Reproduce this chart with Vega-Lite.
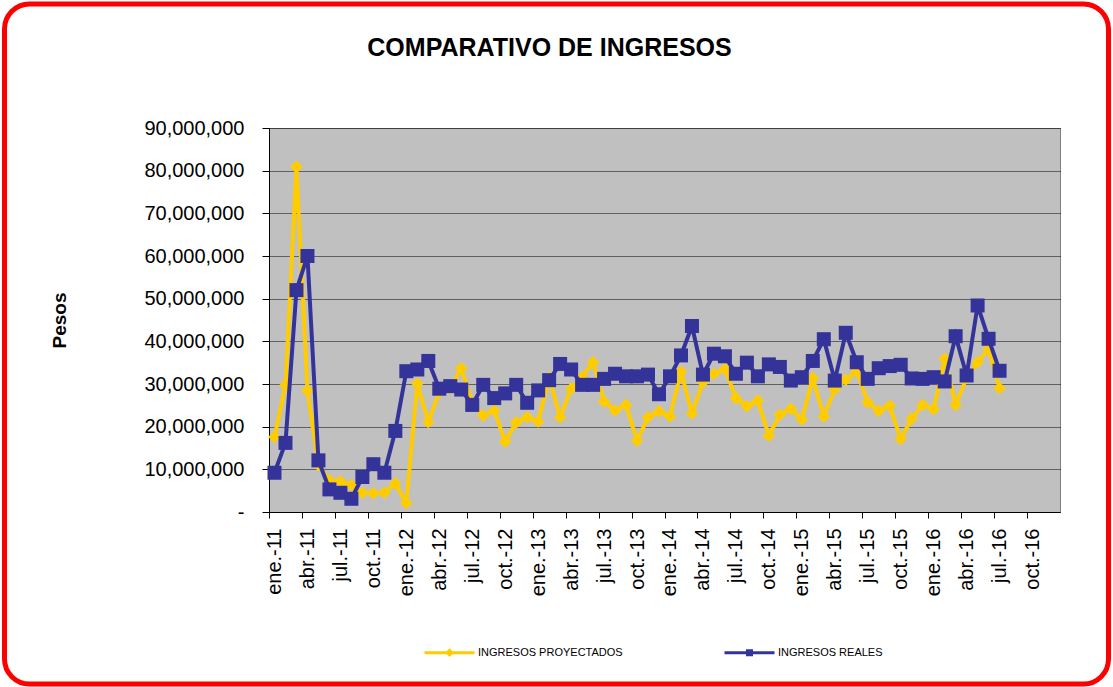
{
  "$schema": "https://vega.github.io/schema/vega-lite/v6.json",
  "width": 791,
  "height": 384,
  "autosize": {"type": "none"},
  "padding": {"left": 269, "top": 128, "right": 53, "bottom": 175},
  "background": "#FFFFFF",
  "title": {"text": "COMPARATIVO DE INGRESOS", "font": "Liberation Sans", "fontSize": 25, "fontWeight": "bold", "color": "#000000", "anchor": "middle", "frame": "group", "dx": -115, "offset": -59},
  "data": {"values": [
    {"mes": "ene.-11", "proyectado": 17600000, "real": 9200000},
    {"mes": "feb.-11", "proyectado": 29700000, "real": 16200000},
    {"mes": "mar.-11", "proyectado": 80900000, "real": 52000000},
    {"mes": "abr.-11", "proyectado": 28400000, "real": 60000000},
    {"mes": "may.-11", "proyectado": 11000000, "real": 12100000},
    {"mes": "jun.-11", "proyectado": 7400000, "real": 5300000},
    {"mes": "jul.-11", "proyectado": 7200000, "real": 4500000},
    {"mes": "ago.-11", "proyectado": 6300000, "real": 3100000},
    {"mes": "sep.-11", "proyectado": 4500000, "real": 8200000},
    {"mes": "oct.-11", "proyectado": 4400000, "real": 11200000},
    {"mes": "nov.-11", "proyectado": 4500000, "real": 9200000},
    {"mes": "dic.-11", "proyectado": 6700000, "real": 19000000},
    {"mes": "ene.-12", "proyectado": 2100000, "real": 33000000},
    {"mes": "feb.-12", "proyectado": 30100000, "real": 33400000},
    {"mes": "mar.-12", "proyectado": 21100000, "real": 35400000},
    {"mes": "abr.-12", "proyectado": 28100000, "real": 28900000},
    {"mes": "may.-12", "proyectado": 29000000, "real": 29500000},
    {"mes": "jun.-12", "proyectado": 33700000, "real": 28700000},
    {"mes": "jul.-12", "proyectado": 25500000, "real": 25100000},
    {"mes": "ago.-12", "proyectado": 22600000, "real": 29800000},
    {"mes": "sep.-12", "proyectado": 23800000, "real": 26700000},
    {"mes": "oct.-12", "proyectado": 16500000, "real": 27800000},
    {"mes": "nov.-12", "proyectado": 21000000, "real": 29800000},
    {"mes": "dic.-12", "proyectado": 22200000, "real": 25600000},
    {"mes": "ene.-13", "proyectado": 21200000, "real": 28500000},
    {"mes": "feb.-13", "proyectado": 31500000, "real": 30900000},
    {"mes": "mar.-13", "proyectado": 22200000, "real": 34700000},
    {"mes": "abr.-13", "proyectado": 28900000, "real": 33400000},
    {"mes": "may.-13", "proyectado": 31600000, "real": 29800000},
    {"mes": "jun.-13", "proyectado": 35100000, "real": 29800000},
    {"mes": "jul.-13", "proyectado": 25900000, "real": 31200000},
    {"mes": "ago.-13", "proyectado": 23800000, "real": 32400000},
    {"mes": "sep.-13", "proyectado": 25100000, "real": 31800000},
    {"mes": "oct.-13", "proyectado": 16700000, "real": 31800000},
    {"mes": "nov.-13", "proyectado": 22200000, "real": 32200000},
    {"mes": "dic.-13", "proyectado": 23600000, "real": 27600000},
    {"mes": "ene.-14", "proyectado": 22400000, "real": 31800000},
    {"mes": "feb.-14", "proyectado": 32900000, "real": 36700000},
    {"mes": "mar.-14", "proyectado": 23100000, "real": 43600000},
    {"mes": "abr.-14", "proyectado": 30400000, "real": 32200000},
    {"mes": "may.-14", "proyectado": 32400000, "real": 37100000},
    {"mes": "jun.-14", "proyectado": 33500000, "real": 36500000},
    {"mes": "jul.-14", "proyectado": 26700000, "real": 32400000},
    {"mes": "ago.-14", "proyectado": 24800000, "real": 35000000},
    {"mes": "sep.-14", "proyectado": 26100000, "real": 31800000},
    {"mes": "oct.-14", "proyectado": 17900000, "real": 34600000},
    {"mes": "nov.-14", "proyectado": 22800000, "real": 34000000},
    {"mes": "dic.-14", "proyectado": 24200000, "real": 30800000},
    {"mes": "ene.-15", "proyectado": 21700000, "real": 31600000},
    {"mes": "feb.-15", "proyectado": 31400000, "real": 35400000},
    {"mes": "mar.-15", "proyectado": 22400000, "real": 40500000},
    {"mes": "abr.-15", "proyectado": 28800000, "real": 30800000},
    {"mes": "may.-15", "proyectado": 31000000, "real": 42000000},
    {"mes": "jun.-15", "proyectado": 33000000, "real": 35100000},
    {"mes": "jul.-15", "proyectado": 25700000, "real": 31200000},
    {"mes": "ago.-15", "proyectado": 23700000, "real": 33700000},
    {"mes": "sep.-15", "proyectado": 24900000, "real": 34200000},
    {"mes": "oct.-15", "proyectado": 17100000, "real": 34500000},
    {"mes": "nov.-15", "proyectado": 21900000, "real": 31300000},
    {"mes": "dic.-15", "proyectado": 25100000, "real": 31200000},
    {"mes": "ene.-16", "proyectado": 24100000, "real": 31600000},
    {"mes": "feb.-16", "proyectado": 35900000, "real": 30600000},
    {"mes": "mar.-16", "proyectado": 25100000, "real": 41200000},
    {"mes": "abr.-16", "proyectado": 31500000, "real": 32000000},
    {"mes": "may.-16", "proyectado": 35100000, "real": 48400000},
    {"mes": "jun.-16", "proyectado": 38200000, "real": 40600000},
    {"mes": "jul.-16", "proyectado": 29000000, "real": 33100000}
  ]},
  "encoding": {
    "x": {
      "field": "mes",
      "type": "ordinal",
      "sort": null,
      "scale": {
        "type": "point",
        "padding": 0.5,
        "domain": ["ene.-11","feb.-11","mar.-11","abr.-11","may.-11","jun.-11","jul.-11","ago.-11","sep.-11","oct.-11","nov.-11","dic.-11",
                   "ene.-12","feb.-12","mar.-12","abr.-12","may.-12","jun.-12","jul.-12","ago.-12","sep.-12","oct.-12","nov.-12","dic.-12",
                   "ene.-13","feb.-13","mar.-13","abr.-13","may.-13","jun.-13","jul.-13","ago.-13","sep.-13","oct.-13","nov.-13","dic.-13",
                   "ene.-14","feb.-14","mar.-14","abr.-14","may.-14","jun.-14","jul.-14","ago.-14","sep.-14","oct.-14","nov.-14","dic.-14",
                   "ene.-15","feb.-15","mar.-15","abr.-15","may.-15","jun.-15","jul.-15","ago.-15","sep.-15","oct.-15","nov.-15","dic.-15",
                   "ene.-16","feb.-16","mar.-16","abr.-16","may.-16","jun.-16","jul.-16","ago.-16","sep.-16","oct.-16","nov.-16","dic.-16"]
      },
      "axis": {
        "title": null,
        "values": ["ene.-11","abr.-11","jul.-11","oct.-11","ene.-12","abr.-12","jul.-12","oct.-12","ene.-13","abr.-13","jul.-13","oct.-13",
                   "ene.-14","abr.-14","jul.-14","oct.-14","ene.-15","abr.-15","jul.-15","oct.-15","ene.-16","abr.-16","jul.-16","oct.-16"],
        "labelAngle": -90,
        "labelFontSize": 20,
        "labelPadding": 10,
        "tickSize": 6,
        "tickOffset": -5.49,
        "labelOffset": 5.49,
        "grid": false,
        "labelOverlap": false
      }
    }
  },
  "layer": [
    {
      "data": {"values": [{}]},
      "mark": {"type": "rect", "fill": null, "stroke": "#FF0000", "strokeWidth": 5, "cornerRadius": 25, "clip": false},
      "encoding": {
        "x": {"value": -264.5},
        "x2": {"value": 839.5},
        "y": {"value": -124},
        "y2": {"value": 556}
      }
    },
    {
      "mark": {"type": "line", "strokeWidth": 4, "point": {"shape": "diamond", "size": 160, "filled": true, "opacity": 1}},
      "encoding": {
        "y": {
          "field": "proyectado",
          "type": "quantitative",
          "title": "Pesos",
          "scale": {"domain": [0, 90000000], "nice": false, "zero": true},
          "axis": {
            "values": [0,10000000,20000000,30000000,40000000,50000000,60000000,70000000,80000000,90000000],
            "labelExpr": "datum.value === 0 ? '-\u00a0\u00a0' : format(datum.value, ',')",
            "labelFontSize": 20,
            "labelPadding": 18,
            "tickSize": 7,
            "grid": true,
            "gridColor": "#000000",
            "gridDash": [1, 1],
            "gridWidth": 1,
            "gridOpacity": 1,
            "titleFontSize": 19,
            "titleFontWeight": "bold",
            "titleAngle": -90,
            "titleX": -210,
            "titleY": 192,
            "titleAlign": "center",
            "titleBaseline": "middle"
          }
        },
        "color": {
          "datum": "INGRESOS PROYECTADOS",
          "scale": {"domain": ["INGRESOS PROYECTADOS", "INGRESOS REALES"], "range": ["#FFCC00", "#333399"]},
          "legend": {
            "title": null,
            "orient": "none",
            "direction": "horizontal",
            "legendX": 154,
            "legendY": 498,
            "padding": 0,
            "columnPadding": 95,
            "labelFont": "Liberation Sans",
            "labelFontSize": 11,
            "labelColor": "#000000",
            "labelOffset": 2,
            "symbolSize": 2500,
            "encode": {
              "symbols": {
                "update": {
                  "shape": {"signal": "datum.value === 'INGRESOS REALES' ? 'M-1,0L1,0M-0.08,-0.08L0.08,-0.08L0.08,0.08L-0.08,0.08Z' : 'M-1,0L1,0M0,-0.09L0.09,0L0,0.09L-0.09,0Z'"},
                  "fill": {"scale": "color", "field": "value"},
                  "stroke": {"scale": "color", "field": "value"},
                  "strokeWidth": {"value": 3},
                  "size": {"value": 2500},
                  "opacity": {"value": 1}
                }
              }
            }
          }
        }
      }
    },
    {
      "mark": {"type": "line", "strokeWidth": 4, "point": {"shape": "square", "size": 196, "filled": true, "opacity": 1}},
      "encoding": {
        "y": {
          "field": "real",
          "type": "quantitative",
          "title": "Pesos"
        },
        "color": {"datum": "INGRESOS REALES"}
      }
    }
  ],
  "config": {
    "font": "Liberation Sans",
    "view": {"fill": "#C0C0C0", "stroke": "#808080", "strokeWidth": 1},
    "axis": {
      "labelFont": "Liberation Sans",
      "titleFont": "Liberation Sans",
      "labelColor": "#000000",
      "titleColor": "#000000",
      "tickColor": "#000000",
      "domainColor": "#000000",
      "domainWidth": 1,
      "tickWidth": 1
    }
  }
}
